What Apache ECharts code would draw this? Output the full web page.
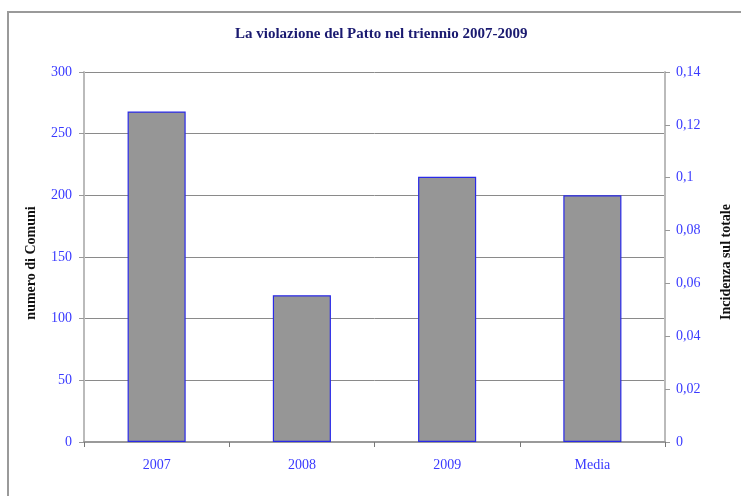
<!DOCTYPE html>
<html>
<head>
<meta charset="utf-8">
<script src="https://cdn.jsdelivr.net/npm/echarts@6/dist/echarts.min.js"></script>
<style>
  html, body { margin: 0; padding: 0; background: #fff; }
  #chart { width: 741px; height: 496px; }
</style>
</head>
<body>
<div id="chart"></div>
<script>
// dati del grafico
const categories = ['2007', '2008', '2009', 'Media'];
const numComuni = [268, 119, 215, 200];
const leftTicks = [0, 300, 50];      // min, max, passo
const rightTicks = [0, 0.14, 0.02];  // min, max, passo

const chart = echarts.init(document.getElementById('chart'));
const serif = '"Liberation Serif", "DejaVu Serif", serif';
const labelBlue = '#3a3aff';

const option = {
  animation: false,
  backgroundColor: '#fff',
  title: {
    text: 'La violazione del Patto nel triennio 2007-2009',
    left: 230,
    top: 22,
    textStyle: {
      fontFamily: serif,
      fontSize: 15,
      fontWeight: 'bold',
      color: '#1a1a70'
    }
  },
  graphic: [{
    type: 'rect',
    shape: { x: 8, y: 12, width: 800, height: 600 },
    style: { fill: 'none', stroke: '#9a9a9a', lineWidth: 2 },
    silent: true
  }],
  grid: { left: 84, right: 74, top: 72, bottom: 54 },
  xAxis: {
    type: 'category',
    data: categories,
    axisLine: { lineStyle: { color: '#9a9a9a', width: 2 } },
    axisTick: { show: true, length: 5, lineStyle: { color: '#777' } },
    axisLabel: {
      margin: 16,
      fontFamily: serif,
      fontSize: 14,
      color: labelBlue
    }
  },
  yAxis: [{
    type: 'value',
    min: leftTicks[0],
    max: leftTicks[1],
    interval: leftTicks[2],
    name: 'numero di Comuni',
    nameLocation: 'middle',
    nameRotate: 90,
    nameGap: 46,
    nameTextStyle: { fontFamily: serif, fontSize: 14, fontWeight: 'bold', color: '#111', padding: [0, 12, 0, 0] },
    axisLine: { show: true, lineStyle: { color: '#bbbbbb', width: 2 } },
    axisTick: { show: true, length: 5, lineStyle: { color: '#999' } },
    axisLabel: { margin: 12, fontFamily: serif, fontSize: 14, color: labelBlue },
    splitLine: { show: true, lineStyle: { color: '#8a8a8a', width: 1 } }
  }, {
    type: 'value',
    min: rightTicks[0],
    max: rightTicks[1],
    interval: rightTicks[2],
    position: 'right',
    name: 'Incidenza sul totale',
    nameLocation: 'middle',
    nameRotate: 90,
    nameGap: 54,
    nameTextStyle: { fontFamily: serif, fontSize: 14, fontWeight: 'bold', color: '#111', padding: [0, 10, 0, 0] },
    axisLine: { show: true, lineStyle: { color: '#bbbbbb', width: 2 } },
    axisTick: { show: true, length: 5, lineStyle: { color: '#999' } },
    axisLabel: {
      margin: 11,
      fontFamily: serif,
      fontSize: 14,
      color: labelBlue,
      formatter: function (v) {
        return String(+v.toFixed(2)).replace('.', ',');
      }
    },
    splitLine: { show: false }
  }],
  series: [{
    name: 'numero di Comuni',
    type: 'bar',
    yAxisIndex: 0,
    data: numComuni,
    barWidth: '40%',
    itemStyle: {
      color: '#969696',
      borderColor: '#2a2ae8',
      borderWidth: 1.2
    }
  }]
};

chart.setOption(option);
</script>
</body>
</html>
